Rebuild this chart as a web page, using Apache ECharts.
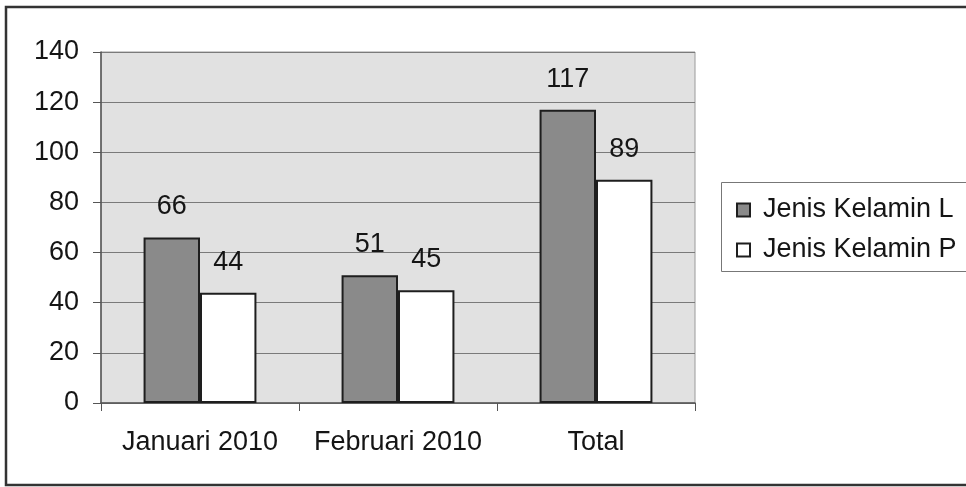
<!DOCTYPE html>
<html>
<head>
<meta charset="utf-8">
<title>Jenis Kelamin</title>
<script src="https://cdn.jsdelivr.net/npm/echarts@6/dist/echarts.min.js"></script>
<style>
  html, body { margin: 0; padding: 0; background: #ffffff; }
  #chart { width: 966px; height: 487px; }
</style>
</head>
<body>
<div id="chart"></div>
<script>
// Categories along the x axis
const categories = ['Januari 2010', 'Februari 2010', 'Total'];
// Counts per sex
const seriesNames = ['Jenis Kelamin L', 'Jenis Kelamin P'];
const valuesL = [66, 51, 117];
const valuesP = [44, 45, 89];
// Value axis ticks
const yTicks = [0, 20, 40, 60, 80, 100, 120, 140];

const FONT = "'Liberation Sans', Arial, sans-serif";
const TEXT = '#151515';

const chart = echarts.init(document.getElementById('chart'), null, { renderer: 'canvas' });

const labelStyle = {
  show: true,
  position: 'top',
  distance: 17,
  fontFamily: FONT,
  fontSize: 27,
  color: TEXT
};

chart.setOption({
  animation: false,
  backgroundColor: '#ffffff',
  grid: {
    left: 101, top: 52, width: 594, height: 351,
    show: true,
    backgroundColor: '#e1e1e1',
    borderColor: '#9a9a9a',
    borderWidth: 1
  },
  legend: {
    orient: 'vertical',
    left: 731,
    top: 191,
    itemWidth: 13,
    itemHeight: 13,
    itemGap: 12,
    icon: 'rect',
    textStyle: {
      fontFamily: FONT,
      fontSize: 27,
      color: TEXT,
      lineHeight: 28,
      padding: [0, 0, 0, 8]
    },
    data: seriesNames
  },
  xAxis: {
    type: 'category',
    data: categories,
    axisLine: { lineStyle: { color: '#555555', width: 1.5 } },
    axisTick: { show: true, length: 8, alignWithLabel: false, lineStyle: { color: '#555555' } },
    axisLabel: { interval: 0, fontFamily: FONT, fontSize: 27, color: TEXT, margin: 26 }
  },
  yAxis: {
    type: 'value',
    min: yTicks[0],
    max: yTicks[yTicks.length - 1],
    interval: yTicks[1] - yTicks[0],
    axisLine: { show: true, lineStyle: { color: '#555555', width: 1.5 } },
    axisTick: { show: true, length: 8, lineStyle: { color: '#555555' } },
    axisLabel: { fontFamily: FONT, fontSize: 27, color: TEXT, margin: 22 },
    splitLine: { show: true, lineStyle: { color: '#7a7a7a', width: 1 } }
  },
  series: [
    {
      name: seriesNames[0],
      type: 'bar',
      data: valuesL,
      barGap: '0%',
      barCategoryGap: '43%',
      itemStyle: { color: '#8a8a8a', borderColor: '#1e1e1e', borderWidth: 2 },
      label: labelStyle
    },
    {
      name: seriesNames[1],
      type: 'bar',
      data: valuesP,
      itemStyle: { color: '#ffffff', borderColor: '#1e1e1e', borderWidth: 2 },
      label: labelStyle
    }
  ],
  graphic: [
    {
      type: 'rect',
      silent: true,
      z: -1,
      shape: { x: 6, y: 7, width: 1000, height: 478 },
      style: { fill: 'none', stroke: '#333333', lineWidth: 2.5 }
    },
    {
      type: 'rect',
      silent: true,
      z: -1,
      shape: { x: 721.5, y: 182.5, width: 300, height: 89 },
      style: { fill: 'none', stroke: '#777777', lineWidth: 1 }
    }
  ]
});
</script>
</body>
</html>
